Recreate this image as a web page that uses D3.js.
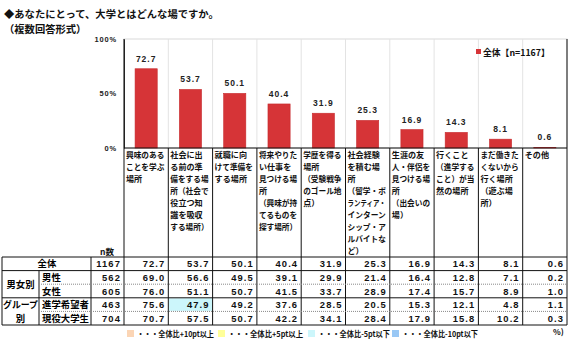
<!DOCTYPE html>
<html><head><meta charset="utf-8">
<script src="https://cdn.jsdelivr.net/npm/d3@7"></script>
<style>
html,body{margin:0;padding:0;background:#fff;}
svg{display:block;}
text{font-family:"Noto Sans CJK JP","Noto Sans",sans-serif;}
.num{font-family:"Liberation Sans",Arial,sans-serif;font-weight:700;}
</style></head>
<body>
<svg id="chart" width="570" height="340"></svg>
<script>
const title = "◆あなたにとって、大学とはどんな場ですか。";
const subtitle = "（複数回答形式）";
const categories = [
  "興味のある\nことを学ぶ\n場所",
  "社会に出\nる前の準\n備をする場\n所（社会で\n役立つ知\n識を吸収\nする場所）",
  "就職に向\nけて準備を\nする場所",
  "将来やりた\nい仕事を\n見つける場\n所\n（興味が持\nてるものを\n探す場所）",
  "学歴を得る\n場所\n（受験戦争\nのゴール地\n点）",
  "社会経験\nを積む場\n所\n（留学・ボ\nランティア・\nインターン\nシップ・ア\nルバイトな\nど）",
  "生涯の友\n人・伴侶を\n見つける場\n所\n（出会いの\n場）",
  "行くこと\n（進学する\nこと）が当\n然の場所",
  "まだ働きた\nくないから\n行く場所\n（遊ぶ場\n所）",
  "その他"
];
const totalValues   = [72.7,53.7,50.1,40.4,31.9,25.3,16.9,14.3,8.1,0.6];
const maleValues    = [69.0,56.6,49.5,39.1,29.9,21.4,16.4,12.8,7.1,0.2];
const femaleValues  = [76.0,51.1,50.7,41.5,33.7,28.9,17.4,15.7,8.9,1.0];
const aspirantValues= [75.6,47.9,49.2,37.6,28.5,20.5,15.3,12.1,4.8,1.1];
const studentValues = [70.7,57.5,50.7,42.2,34.1,28.4,17.9,15.8,10.2,0.3];
const rowLabels = ["全体","男性","女性","進学希望者","現役大学生"];
const groupLabels = ["男女別","グループ\n別"];
const nValues = [1167,562,605,463,704];
const yTicks = [0,50,100];
const legendLabel = "全体【n=1167】";
const noteLabels = ["・・・全体比+10pt以上","・・・全体比+5pt以上","・・・全体比-5pt以下","・・・全体比-10pt以下"];
const noteColors = ["#fbd5b5","#ffff99","#ccf6fb","#99c8f5"];

const rows = [totalValues,maleValues,femaleValues,aspirantValues,studentValues];

const svg = d3.select("#chart");
const L = 124, R = 567, T = 39, B = 148;
const tableTop = 257, rowH = 13.6, tableBottom = tableTop + rowH*5;

const x = d3.scaleBand().domain(d3.range(categories.length)).range([L,R]).paddingInner(0).paddingOuter(0);
const y = d3.scaleLinear().domain([0,100]).range([B,T]);

// titles
svg.append("text").attr("x",4).attr("y",17.5).attr("font-size",10.3).attr("font-weight",700).attr("fill","#111").text(title);
svg.append("text").attr("x",4).attr("y",32.5).attr("font-size",10.3).attr("font-weight",700).attr("fill","#111").text(subtitle);

// plot border & gridlines
svg.append("rect").attr("x",L).attr("y",T).attr("width",R-L).attr("height",B-T).attr("fill","none").attr("stroke","#d9d9d9");
svg.append("g").selectAll("line").data(d3.range(1,categories.length)).join("line")
  .attr("x1",d=>x(d)).attr("x2",d=>x(d)).attr("y1",T).attr("y2",B).attr("stroke","#e3e3e3");

// bars
const bw = x.bandwidth();
svg.append("g").selectAll("rect").data(totalValues).join("rect")
  .attr("x",(d,i)=>x(i)+bw*0.25).attr("width",bw*0.5)
  .attr("y",d=>y(d)).attr("height",d=>B-y(d))
  .attr("fill","#d63437").attr("stroke","#c62a2d").attr("stroke-width",0.6);
svg.append("g").selectAll("text").data(totalValues).join("text")
  .attr("class","num").attr("x",(d,i)=>x(i)+bw/2).attr("y",d=>y(d)-7)
  .attr("text-anchor","middle").attr("font-size",8.5).attr("letter-spacing",1).attr("fill","#222")
  .text(d=>d.toFixed(1));

// y axis
const yAxis = svg.append("g").attr("transform",`translate(${L},0)`)
  .call(d3.axisLeft(y).tickValues(yTicks).tickSize(0).tickPadding(7).tickFormat(d=>d+"%"));
yAxis.select(".domain").attr("stroke","#333");
yAxis.selectAll("text").attr("class","num").attr("font-size",7.5).attr("letter-spacing",0.8).attr("fill","#222");

// legend top
svg.append("rect").attr("x",476).attr("y",49).attr("width",5).attr("height",5).attr("fill","#d63437");
svg.append("text").attr("x",483).attr("y",56).attr("font-size",8.8).attr("font-weight",700).attr("fill","#111").text(legendLabel);

// header category labels
const hdr = svg.append("g");
categories.forEach((c,i)=>{
  c.split("\n").forEach((ln,j)=>{
    const t = hdr.append("text").attr("x",x(i)+2).attr("y",158+j*12)
      .attr("font-size",8.1).attr("font-weight",700).attr("fill","#111").text(ln);
    const w = t.node().getComputedTextLength();
    if (w > bw-6) t.attr("textLength",bw-6).attr("lengthAdjust","spacingAndGlyphs");
  });
});
svg.append("text").attr("x",100).attr("y",255).attr("font-size",8.5).attr("font-weight",700).attr("fill","#111").text("n数");

// highlight cells
function hl(v,base){const d=v-base; if(d>=10)return noteColors[0]; if(d>=5)return noteColors[1]; if(d<=-10)return noteColors[3]; if(d<=-5)return noteColors[2]; return null;}
rows.forEach((vals,r)=>{
  if(r===0) return;
  vals.forEach((v,i)=>{
    const c = hl(v,totalValues[i]);
    if(c) svg.append("rect").attr("x",x(i)+0.5).attr("y",tableTop+r*rowH+0.5).attr("width",bw-1).attr("height",rowH-1).attr("fill",c);
  });
});

// table lines
const g = svg.append("g").attr("stroke","#111").attr("stroke-width",1);
g.append("line").attr("x1",L).attr("x2",R).attr("y1",B).attr("y2",B);
d3.range(categories.length+1).forEach(i=>{
  const xx = i<categories.length ? x(i) : R;
  g.append("line").attr("x1",xx).attr("x2",xx).attr("y1",i===0||i===categories.length?T:B).attr("y2",tableBottom);
});
[0,1,3,5].forEach(r=>{
  g.append("line").attr("x1",2).attr("x2",R).attr("y1",tableTop+r*rowH).attr("y2",tableTop+r*rowH);
});
[2,4].forEach(r=>{
  svg.append("line").attr("x1",39).attr("x2",R).attr("y1",tableTop+r*rowH).attr("y2",tableTop+r*rowH)
    .attr("stroke","#888").attr("stroke-dasharray","1,1");
});
g.append("line").attr("x1",2).attr("x2",2).attr("y1",tableTop).attr("y2",tableBottom);
g.append("line").attr("x1",39).attr("x2",39).attr("y1",tableTop+rowH).attr("y2",tableBottom);
g.append("line").attr("x1",91).attr("x2",91).attr("y1",tableTop).attr("y2",tableBottom);

// table text
const tt = svg.append("g");
rows.forEach((vals,r)=>{
  const cy = tableTop + r*rowH + rowH/2 + 3.6;
  vals.forEach((v,i)=>{
    tt.append("text").attr("class","num").attr("x",x(i)+bw-3).attr("y",cy).attr("text-anchor","end")
      .attr("font-size",9.4).attr("letter-spacing",1.1).attr("fill","#111").text(v.toFixed(1));
  });
  tt.append("text").attr("class","num").attr("x",121).attr("y",cy).attr("text-anchor","end")
    .attr("font-size",9.4).attr("letter-spacing",1.1).attr("fill","#111").text(nValues[r]);
  if(r===0){
    tt.append("text").attr("x",47).attr("y",cy).attr("text-anchor","middle").attr("font-size",9.4).attr("font-weight",700).text(rowLabels[r]);
  } else {
    tt.append("text").attr("x",42).attr("y",cy).attr("font-size",9.4).attr("font-weight",700).text(rowLabels[r]);
  }
});
tt.append("text").attr("x",20.5).attr("y",tableTop+rowH*2+3.6).attr("text-anchor","middle").attr("font-size",9.4).attr("font-weight",700).text(groupLabels[0]);
groupLabels[1].split("\n").forEach((ln,j)=>{
  const t = tt.append("text").attr("x",20.5).attr("y",tableTop+rowH*3+rowH/2+3.6+j*rowH).attr("text-anchor","middle").attr("font-size",9.4).attr("font-weight",700).text(ln);
  if (t.node().getComputedTextLength() > 35) t.attr("textLength",35).attr("lengthAdjust","spacingAndGlyphs");
});

// bottom notes
const noteX = [127,218,308,392];
const noteW = [77,75,72,76];
noteLabels.forEach((t,i)=>{
  svg.append("rect").attr("x",noteX[i]).attr("y",330).attr("width",7).attr("height",7).attr("fill",noteColors[i]);
  svg.append("text").attr("x",noteX[i]+10).attr("y",337).attr("font-size",7.8).attr("font-weight",700).attr("fill","#111")
    .attr("textLength",noteW[i]).attr("lengthAdjust","spacingAndGlyphs").text(t);
});
svg.append("text").attr("x",553).attr("y",335).attr("font-size",8).attr("font-weight",700).attr("fill","#111").text("%)");
</script>
</body></html>
